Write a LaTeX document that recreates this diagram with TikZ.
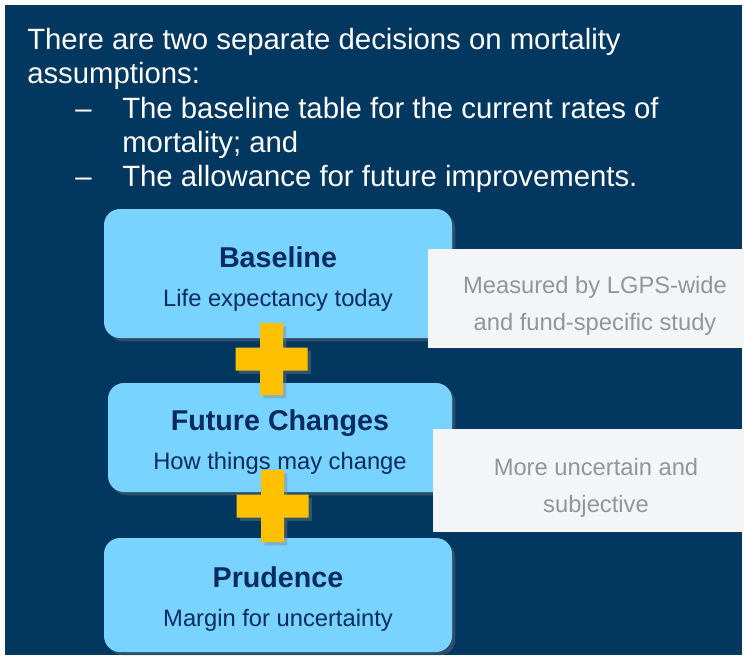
\documentclass[tikz,border=0pt]{standalone}
\usepackage{fontspec}
\setmainfont{Liberation Sans}
\usetikzlibrary{shadows}

\definecolor{navybg}{HTML}{02375F}
\definecolor{skyblue}{HTML}{78D3FE}
\definecolor{inktext}{HTML}{0B2A5E}
\definecolor{plusgold}{HTML}{FFC000}
\definecolor{notefill}{HTML}{F4F5F7}
\definecolor{notetext}{HTML}{8E969E}

\tikzset{
  bluebox/.style={fill=skyblue, rounded corners=12pt, inner sep=0pt, outer sep=0pt,
    drop shadow={shadow xshift=2.5pt, shadow yshift=-2.5pt, opacity=0.35}},
  notebox/.style={fill=notefill, inner sep=0pt, outer sep=0pt},
  headtext/.style={anchor=base west, text=white, inner sep=0pt, font=\fontsize{22pt}{26pt}\selectfont},
  boxtitle/.style={anchor=base, text=inktext, inner sep=0pt, font=\fontsize{21.5pt}{25pt}\selectfont\bfseries},
  boxsub/.style={anchor=base, text=inktext, inner sep=0pt, font=\fontsize{17.8pt}{21pt}\selectfont},
  notetxt/.style={anchor=base, text=notetext, inner sep=0pt, font=\fontsize{17.8pt}{21pt}\selectfont}
}

% plus sign centred at #1
\newcommand{\plussign}[1]{%
  \begin{scope}[shift={#1}]
    \fill[plusgold, drop shadow={shadow xshift=2.5pt, shadow yshift=-2.5pt, opacity=0.4}]
      (-11.5,-36) -- (11.5,-36) -- (11.5,-11.5) -- (36,-11.5) -- (36,11.5) -- (11.5,11.5)
      -- (11.5,36) -- (-11.5,36) -- (-11.5,11.5) -- (-36,11.5) -- (-36,-11.5) -- (-11.5,-11.5) -- cycle;
  \end{scope}}

\begin{document}
\begin{tikzpicture}[x=0.75pt, y=-0.75pt]
      \useasboundingbox (0,0) rectangle (744,657);
      \fill[white] (0,0) rectangle (744,657);
      \fill[navybg] (5,5) rectangle (742,655);

      % Heading
      \node[headtext] (line1) at (27,49)  {There are two separate decisions on mortality};
      \node[headtext] (line2) at (27,83)  {assumptions:};
      \node[headtext] (dash1) at (75,118) {–};
      \node[headtext] (line3) at (122,118) {The baseline table for the current rates of};
      \node[headtext] (line4) at (122,152) {mortality; and};
      \node[headtext] (dash2) at (75,186) {–};
      \node[headtext] (line5) at (122,186) {The allowance for future improvements.};

      % Blue boxes
      \node[bluebox, minimum width=261pt, minimum height=96.75pt] (base) at (278,273.5) {};
      \node[boxtitle] (basetitle) at (278,267) {Baseline};
      \node[boxsub]   (basesub)   at (278,306) {Life expectancy today};

      \node[notebox, minimum width=237pt, minimum height=74.25pt] (basenote) at (586,298.5) {};
      \node[notetxt] (basenote1) at (595,293) {Measured by LGPS-wide};
      \node[notetxt] (basenote2) at (595,330) {and fund-specific study};

      \node[bluebox, minimum width=258pt, minimum height=81.75pt] (future) at (280,437.5) {};
      \node[boxtitle] (futuretitle) at (280,430) {Future Changes};
      \node[boxsub]   (futuresub)   at (280,469) {How things may change};

      \node[notebox, minimum width=233.25pt, minimum height=77.25pt] (futurenote) at (588.5,480.5) {};
      \node[notetxt] (futurenote1) at (596,475) {More uncertain and};
      \node[notetxt] (futurenote2) at (596,512) {subjective};

      \node[bluebox, minimum width=261pt, minimum height=85.5pt] (prudence) at (278,595) {};
      \node[boxtitle] (prudtitle) at (278,587) {Prudence};
      \node[boxsub]   (prudsub)   at (278,626) {Margin for uncertainty};

      % Plus signs
      \plussign{(271.5,359)}
      \plussign{(272.5,506)}
\end{tikzpicture}
\end{document}
